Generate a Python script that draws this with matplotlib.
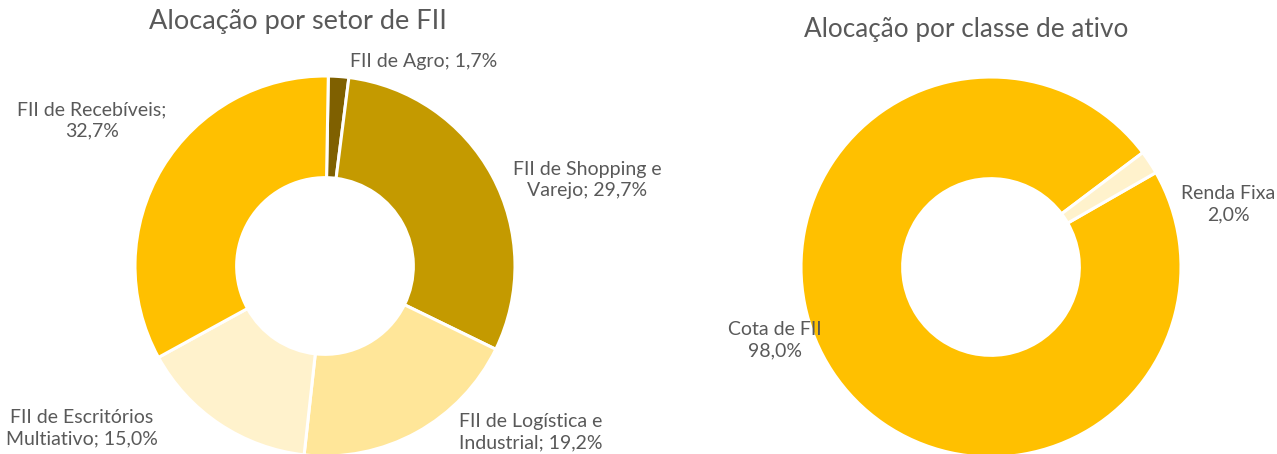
import matplotlib
matplotlib.use("Agg")
import matplotlib.pyplot as plt

# ---- data ----
sector_names = ["FII de Agro", "FII de Shopping e\nVarejo", "FII de Logística e\nIndustrial",
                "FII de Escritórios\nMultiativo", "FII de Recebíveis"]
sector_values = [1.7, 29.7, 19.2, 15.0, 32.7]
sector_seps = ["; ", "; ", "; ", "; ", ";\n"]

class_names = ["Cota de FII", "Renda Fixa"]
class_values = [98.0, 2.0]
class_seps = ["\n", "\n"]

# ---- style / layout ----
W, H = 1277, 454
sector_colors = ["#7F6000", "#C49A00", "#FFE699", "#FFF2CC", "#FFC000"]
class_colors = ["#FFC000", "#FFF2CC"]
text_color = "#595959"
font = ["Lato", "DejaVu Sans"]

sector_label_pos = [(424, 62), (587, 180), (531, 432), (82, 428), (92, 120)]
class_label_pos = [(775, 340), (1228, 204)]

fig = plt.figure(figsize=(W / 100, H / 100), dpi=100)
ax = fig.add_axes([0, 0, 1, 1])
ax.set_xlim(0, W)
ax.set_ylim(0, H)
ax.axis("off")


def fmt(v):
    return f"{v:.1f}".replace(".", ",") + "%"


def donut(values, colors, center, radius, startangle):
    ax.pie(values, colors=colors, center=center, radius=radius,
           startangle=startangle, counterclock=False, frame=True,
           wedgeprops=dict(width=radius * 0.535, edgecolor="white", linewidth=2.2))


donut(sector_values, sector_colors, (325, H - 266), 190, 89.0)
donut(class_values, class_colors, (991, H - 267), 190, 29.8)

for name, v, sep, (x, y) in zip(sector_names, sector_values, sector_seps, sector_label_pos):
    ax.text(x, H - y, name + sep + fmt(v), ha="center", va="center", fontsize=14,
            color=text_color, family=font, linespacing=1.3)

for name, v, sep, (x, y) in zip(class_names, class_values, class_seps, class_label_pos):
    ax.text(x, H - y, name + sep + fmt(v), ha="center", va="center", fontsize=14,
            color=text_color, family=font, linespacing=1.3)

ax.text(298, H - 22, "Alocação por setor de FII", ha="center", va="center",
        fontsize=19.5, color=text_color, family=font)
ax.text(966, H - 30, "Alocação por classe de ativo", ha="center", va="center",
        fontsize=18.8, color=text_color, family=font)

ax.set_xlim(0, W)
ax.set_ylim(0, H)
ax.set_aspect("auto")
fig.savefig("out.png", dpi=100)
